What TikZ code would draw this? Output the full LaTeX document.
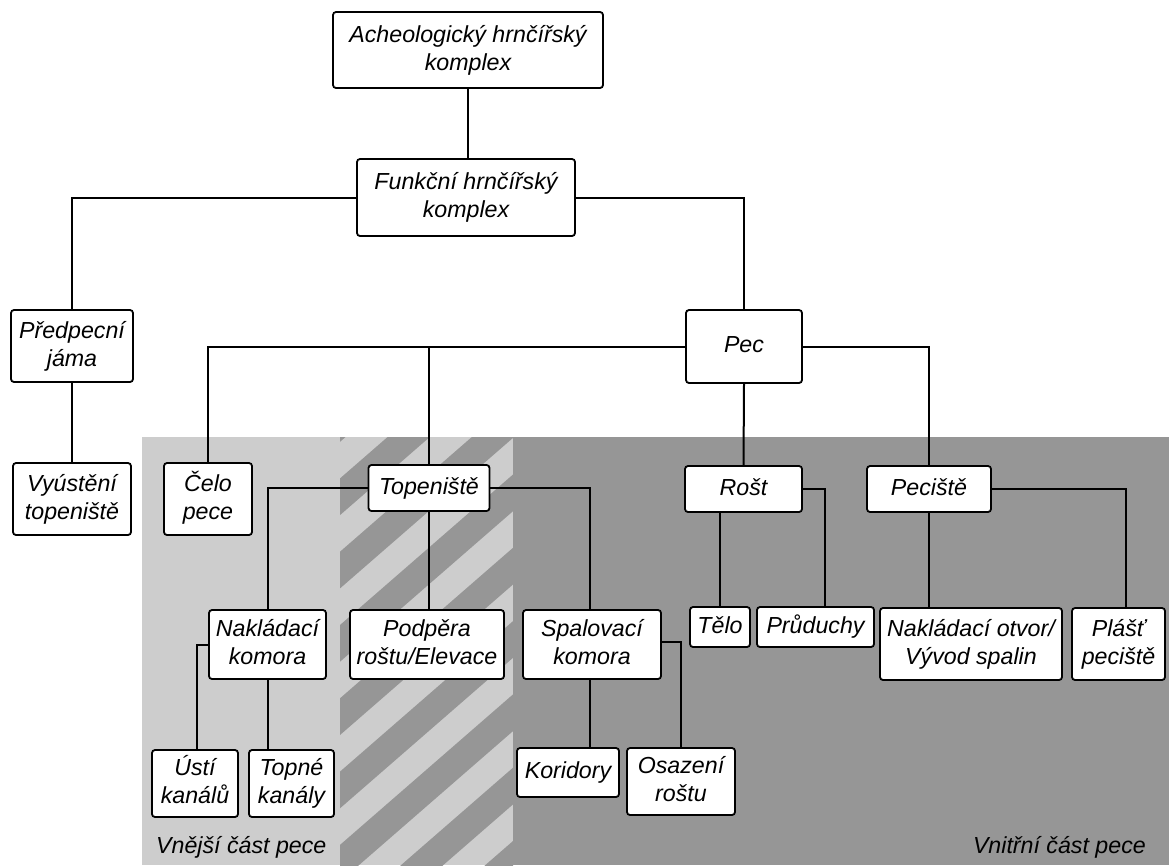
\documentclass[tikz,border=0pt]{standalone}
\usepackage{fontspec}
\setmainfont{Liberation Sans}
\definecolor{lightg}{HTML}{CDCDCD}
\definecolor{darkg}{HTML}{969696}
\begin{document}
\begin{tikzpicture}[x=1pt,y=-1pt,
  box/.style={draw=black, line width=1.8pt, fill=white, rounded corners=3pt,
    inner sep=0pt, align=center, font=\fontsize{23.2}{28}\selectfont\itshape},
  one/.style={text height=17pt, text depth=5pt},
  two/.style={text height=45pt, text depth=5pt},
  conn/.style={draw=black, line width=2pt},
  region/.style={font=\fontsize{23.2}{28}\selectfont\itshape, inner sep=0pt}]
\useasboundingbox (0,0) rectangle (1169,865);
% background regions
\fill[lightg] (142,437) rectangle (340,865);
\fill[darkg] (513,437) rectangle (1169,865);
\fill[lightg] (340,437) rectangle (513,865);
\begin{scope}
  \clip (340,437) rectangle (513,865);
  \foreach \k in {-5,...,5}{
    \pgfmathsetmacro{\yl}{735+73.3*\k}
    \fill[darkg] (340,\yl) -- (513,\yl-150.5) -- (513,\yl-187.2) -- (340,\yl-36.7) -- cycle;
  }
\end{scope}
% nodes
\node[box, two, minimum width=270pt, minimum height=76pt] (A) at (468,50) {Acheologický hrnčířský\\komplex};
\node[box, two, minimum width=218pt, minimum height=77pt] (F) at (466,197.5) {Funkční hrnčířský\\komplex};
\node[box, two, minimum width=122pt, minimum height=72pt] (Pred) at (72,346) {Předpecní\\jáma};
\node[box, two, minimum width=118pt, minimum height=72pt] (Vyus) at (72,499) {Vyústění\\topeniště};
\node[box, one, minimum width=116pt, minimum height=73pt] (Pec) at (744,346.5) {Pec};
\node[box, two, minimum width=88pt, minimum height=72pt] (Celo) at (208,499) {Čelo\\pece};
\node[box, one, minimum width=121pt, minimum height=46pt] (Top) at (429,488) {Topeniště};
\node[box, one, minimum width=117pt, minimum height=46pt] (Rost) at (743.5,489) {Rošt};
\node[box, one, minimum width=124pt, minimum height=46pt] (Pecis) at (929,489) {Peciště};
\node[box, two, minimum width=117pt, minimum height=69pt] (Nakl) at (267.5,644.5) {Nakládací\\komora};
\node[box, two, minimum width=154pt, minimum height=69pt] (Podp) at (427,644.5) {Podpěra\\roštu/Elevace};
\node[box, two, minimum width=138pt, minimum height=69pt] (Spal) at (592,644.5) {Spalovací\\komora};
\node[box, one, minimum width=60pt, minimum height=40pt] (Telo) at (720,627) {Tělo};
\node[box, one, minimum width=117pt, minimum height=40pt] (Prud) at (815.5,627) {Průduchy};
\node[box, two, minimum width=182pt, minimum height=72pt] (NaklOt) at (971,644) {Nakládací otvor/\\Vývod spalin};
\node[box, two, minimum width=93pt, minimum height=72pt] (Plast) at (1118.5,644) {Plášť\\peciště};
\node[box, two, minimum width=86pt, minimum height=67pt] (Usti) at (195,783.5) {Ústí\\kanálů};
\node[box, two, minimum width=85pt, minimum height=67pt] (Topne) at (291.5,783.5) {Topné\\kanály};
\node[box, one, minimum width=102pt, minimum height=49pt] (Kor) at (568,772.5) {Koridory};
\node[box, two, minimum width=108pt, minimum height=67pt] (Osaz) at (681,781.5) {Osazení\\roštu};
% region labels
\node[region, anchor=west] (Lout) at (156,847) {Vnější část pece};
\node[region, anchor=east] (Lin) at (1146,847) {Vnitřní část pece};
% connectors
\draw[conn] ([xshift=2pt]F.north |- A.south) -- ([xshift=2pt]F.north);
\draw[conn] (F.west) -| (Pred.north);
\draw[conn] (F.east) -| (Pec.north);
\draw[conn] (Pred.south) -- (Vyus.north);
\draw[conn] (Pec.west) -| (Celo.north);
\draw[conn] (Top.north) |- (Pec.west);
\draw[conn] (Pec.east) -| (Pecis.north);
\draw[conn] (Pec.south) -- (Rost.north);
\draw[conn] (Top.west) -| (Nakl.north);
\draw[conn] (Top.south) -- (Top.south |- Podp.north);
\draw[conn] (Top.east) -| ([xshift=-2pt]Spal.north);
\draw[conn] (Nakl.west) -| ([xshift=2pt]Usti.north);
\draw[conn] (Nakl.south) -- (Nakl.south |- Topne.north);
\draw[conn] ([xshift=-2pt]Spal.south) -- ([xshift=-2pt]Spal.south |- Kor.north);
\draw[conn] ([yshift=2.5pt]Spal.east) -| (Osaz.north);
\draw[conn] (Telo.north) -- (Telo.north |- Rost.south);
\draw[conn] (Rost.east) -| ([xshift=9.5pt]Prud.north);
\draw[conn] (Pecis.south) -- (Pecis.south |- NaklOt.north);
\draw[conn] (Pecis.east) -| ([xshift=7pt]Plast.north);
\end{tikzpicture}
\end{document}
